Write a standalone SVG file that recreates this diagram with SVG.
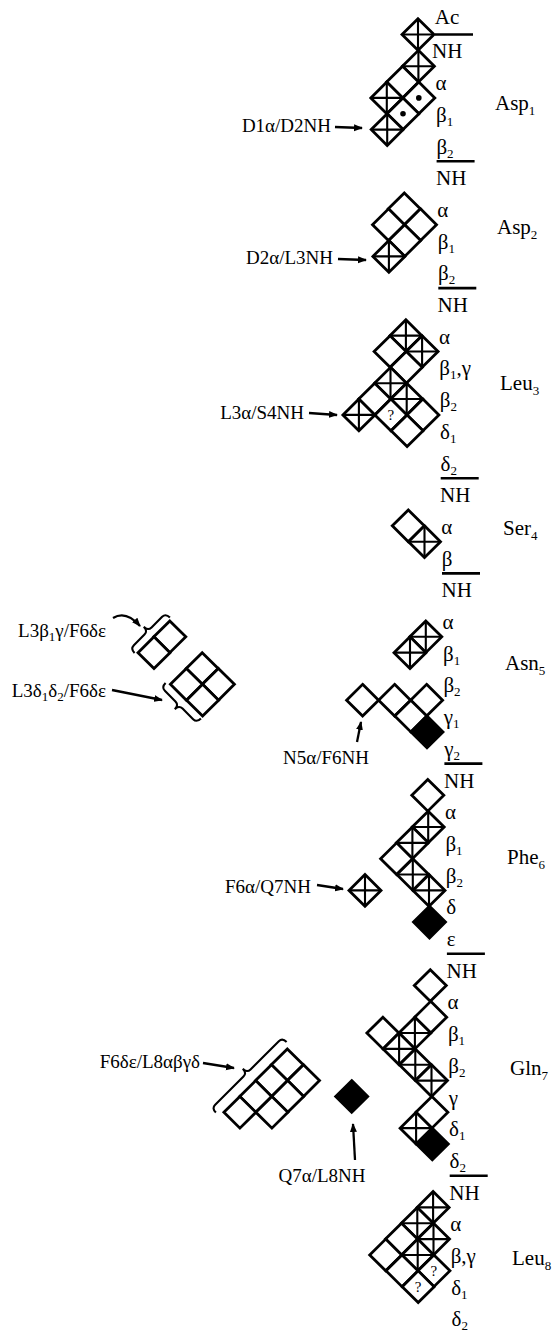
<svg xmlns="http://www.w3.org/2000/svg" width="560" height="1337" viewBox="0 0 560 1337">
<style>
.cells{fill:#fff;stroke:#000;stroke-width:2.8;stroke-linejoin:miter}
.cells .b{fill:#000}
.xl{stroke-width:2.1}
text{font-family:"Liberation Serif","Times New Roman",serif;fill:#000;stroke:none}
.at{font-size:21px}
.res{font-size:21px}
.ann{font-size:19px}
.sub{font-size:13px}
.q{font-size:15px;text-anchor:middle}
.sep{stroke:#000;stroke-width:2.6}
.arr{fill:none;stroke:#000;stroke-width:2.3}
.brace{fill:none;stroke:#000;stroke-width:2.1}
</style>
<defs>
<path id="dia" d="M0,-15.85L16,0L0,15.85L-16,0Z"/>
<g id="W"><use href="#dia"/></g>
<g id="X"><use href="#dia"/><path class="xl" d="M0,-15.85V15.85M-16,0H16"/></g>
<g id="D"><use href="#dia"/><circle r="2.8" fill="#000" stroke="none"/></g>
<g id="Q"><use href="#dia"/><text class="q" y="5.5">?</text></g>
<marker id="ah" markerUnits="userSpaceOnUse" markerWidth="9" markerHeight="8" refX="8" refY="4" orient="auto">
<path d="M0,0.5L9,4L0,7.5Z" fill="#000"/>
</marker>
</defs>
<rect width="560" height="1337" fill="#fff"/>

<g id="asp1">
<g class="cells">
<use href="#X" x="418.0" y="34.5"/>
<use href="#X" x="418.4" y="66.2"/>
<use href="#W" x="402.6" y="82.05"/>
<use href="#D" x="418.8" y="97.9"/>
<use href="#X" x="386.8" y="97.9"/>
<use href="#D" x="403.0" y="113.75"/>
<use href="#X" x="387.2" y="129.6"/>
</g>
<text class="at" x="434.8" y="24">Ac</text>
<text class="at" x="432" y="58.4">NH</text>
<text class="at" x="435.6" y="90.1">α</text>
<text class="at" x="436" y="121.8">β<tspan class="sub" dy="4">1</tspan></text>
<text class="at" x="436.4" y="153.5">β<tspan class="sub" dy="4">2</tspan></text>
<text class="res" x="495" y="110">Asp<tspan class="sub" dy="5">1</tspan></text>
</g>

<g id="asp2">
<g class="cells">
<use href="#W" x="404.3" y="208.85"/>
<use href="#W" x="420.5" y="224.7"/>
<use href="#W" x="388.5" y="224.7"/>
<use href="#W" x="404.7" y="240.55"/>
<use href="#X" x="388.9" y="256.4"/>
</g>
<text class="at" x="436" y="185.2">NH</text>
<text class="at" x="437.3" y="216.9">α</text>
<text class="at" x="437.7" y="248.6">β<tspan class="sub" dy="4">1</tspan></text>
<text class="at" x="438.1" y="280.3">β<tspan class="sub" dy="4">2</tspan></text>
<text class="res" x="497" y="234">Asp<tspan class="sub" dy="5">2</tspan></text>
</g>

<g id="leu3">
<g class="cells">
<use href="#X" x="405.9" y="335.65"/>
<use href="#X" x="422.1" y="351.5"/>
<use href="#W" x="390.1" y="351.5"/>
<use href="#W" x="406.3" y="367.35"/>
<use href="#X" x="390.5" y="383.2"/>
<use href="#X" x="406.7" y="399.05"/>
<use href="#W" x="374.7" y="399.05"/>
<use href="#W" x="422.9" y="414.9"/>
<use href="#Q" x="390.9" y="414.9"/>
<use href="#X" x="358.9" y="414.9"/>
<use href="#W" x="407.1" y="430.75"/>
</g>
<text class="at" x="437.5" y="312">NH</text>
<text class="at" x="438.9" y="343.7">α</text>
<text class="at" x="439.3" y="375.4">β<tspan class="sub" dy="4">1</tspan><tspan dy="-4">,γ</tspan></text>
<text class="at" x="439.7" y="407.1">β<tspan class="sub" dy="4">2</tspan></text>
<text class="at" x="440.1" y="438.8">δ<tspan class="sub" dy="4">1</tspan></text>
<text class="at" x="440.5" y="470.5">δ<tspan class="sub" dy="4">2</tspan></text>
<text class="res" x="500" y="390">Leu<tspan class="sub" dy="5">3</tspan></text>
</g>

<g id="ser4">
<g class="cells">
<use href="#W" x="408.3" y="525.85"/>
<use href="#X" x="424.5" y="541.7"/>
</g>
<text class="at" x="440" y="502.2">NH</text>
<text class="at" x="441.3" y="533.9">α</text>
<text class="at" x="441.7" y="565.6">β</text>
<text class="res" x="503" y="535">Ser<tspan class="sub" dy="5">4</tspan></text>
</g>

<g id="asn5">
<g class="cells">
<use href="#X" x="425.8" y="636.8"/>
<use href="#X" x="410.0" y="652.65"/>
<use href="#W" x="426.6" y="700.2"/>
<use href="#W" x="394.6" y="700.2"/>
<use href="#W" x="362.6" y="700.2"/>
<use href="#W" x="410.8" y="716.05"/>
<use href="#W" class="b" x="427.0" y="731.9"/>
</g>
<text class="at" x="441.5" y="597.3">NH</text>
<text class="at" x="442.6" y="629">α</text>
<text class="at" x="443" y="660.7">β<tspan class="sub" dy="4">1</tspan></text>
<text class="at" x="443.4" y="692.4">β<tspan class="sub" dy="4">2</tspan></text>
<text class="at" x="443.8" y="724.1">γ<tspan class="sub" dy="4">1</tspan></text>
<text class="at" x="444.2" y="755.8">γ<tspan class="sub" dy="4">2</tspan></text>
<text class="res" x="505" y="670">Asn<tspan class="sub" dy="5">5</tspan></text>
</g>

<g id="phe6">
<g class="cells">
<use href="#W" x="427.8" y="795.3"/>
<use href="#X" x="428.2" y="827.0"/>
<use href="#X" x="412.4" y="842.85"/>
<use href="#W" x="396.6" y="858.7"/>
<use href="#X" x="412.8" y="874.55"/>
<use href="#X" x="429.0" y="890.4"/>
<use href="#W" class="b" x="429.5" y="922.1"/>
</g>
<text class="at" x="444" y="787.5">NH</text>
<text class="at" x="445" y="819.2">α</text>
<text class="at" x="445.4" y="850.9">β<tspan class="sub" dy="4">1</tspan></text>
<text class="at" x="445.8" y="882.6">β<tspan class="sub" dy="4">2</tspan></text>
<text class="at" x="446.2" y="914.3">δ</text>
<text class="at" x="446.7" y="946">ε</text>
<text class="res" x="507" y="864">Phe<tspan class="sub" dy="5">6</tspan></text>
</g>

<g id="gln7">
<g class="cells">
<use href="#W" x="430.3" y="985.5"/>
<use href="#W" x="430.7" y="1017.2"/>
<use href="#W" x="382.9" y="1033.05"/>
<use href="#X" x="414.9" y="1033.05"/>
<use href="#X" x="399.1" y="1048.9"/>
<use href="#X" x="415.3" y="1064.75"/>
<use href="#X" x="431.5" y="1080.6"/>
<use href="#W" x="431.9" y="1112.3"/>
<use href="#X" x="416.1" y="1128.15"/>
<use href="#W" class="b" x="432.3" y="1144.0"/>
</g>
<text class="at" x="446.5" y="977.7">NH</text>
<text class="at" x="447.5" y="1009.4">α</text>
<text class="at" x="447.9" y="1041.1">β<tspan class="sub" dy="4">1</tspan></text>
<text class="at" x="448.3" y="1072.8">β<tspan class="sub" dy="4">2</tspan></text>
<text class="at" x="448.7" y="1104.5">γ</text>
<text class="at" x="449.1" y="1136.2">δ<tspan class="sub" dy="4">1</tspan></text>
<text class="at" x="449.5" y="1167.9">δ<tspan class="sub" dy="4">2</tspan></text>
<text class="res" x="510" y="1075">Gln<tspan class="sub" dy="5">7</tspan></text>
</g>

<g id="leu8">
<g class="cells">
<use href="#X" x="433.1" y="1207.4"/>
<use href="#X" x="417.3" y="1223.25"/>
<use href="#X" x="433.5" y="1239.1"/>
<use href="#W" x="401.5" y="1239.1"/>
<use href="#X" x="417.7" y="1254.95"/>
<use href="#W" x="385.7" y="1254.95"/>
<use href="#W" x="402.0" y="1270.8"/>
<use href="#Q" x="433.95" y="1270.8"/>
<use href="#Q" x="418.2" y="1286.65"/>
</g>
<text class="at" x="449.3" y="1199.6">NH</text>
<text class="at" x="450.3" y="1231.3">α</text>
<text class="at" x="450.7" y="1263">β,γ</text>
<text class="at" x="451.2" y="1294.7">δ<tspan class="sub" dy="4">1</tspan></text>
<text class="at" x="451.6" y="1326.4">δ<tspan class="sub" dy="4">2</tspan></text>
<text class="res" x="512" y="1265">Leu<tspan class="sub" dy="5">8</tspan></text>
</g>

<g id="separators">
<line class="sep" x1="435" y1="34.5" x2="473" y2="34.5"/>
<line class="sep" x1="436.6" y1="161.3" x2="474.6" y2="161.3"/>
<line class="sep" x1="438.3" y1="288.1" x2="476.3" y2="288.1"/>
<line class="sep" x1="440.7" y1="478.3" x2="478.7" y2="478.3"/>
<line class="sep" x1="442" y1="573.4" x2="480" y2="573.4"/>
<line class="sep" x1="444.4" y1="763.6" x2="482.4" y2="763.6"/>
<line class="sep" x1="446.9" y1="953.8" x2="484.9" y2="953.8"/>
<line class="sep" x1="449.7" y1="1175.7" x2="487.7" y2="1175.7"/>
</g>

<g id="d1a-d2nh"><text class="ann" x="331" y="132" text-anchor="end">D1α/D2NH</text></g>
<g id="d2a-l3nh"><text class="ann" x="333" y="264" text-anchor="end">D2α/L3NH</text></g>
<g id="l3a-s4nh"><text class="ann" x="304" y="419" text-anchor="end">L3α/S4NH</text></g>
<g id="n5a-f6nh"><text class="ann" x="326" y="764" text-anchor="middle">N5α/F6NH</text></g>
<g id="f6a-q7nh">
<g class="cells"><use href="#X" x="365.0" y="890.4"/></g>
<text class="ann" x="311" y="893" text-anchor="end">F6α/Q7NH</text>
</g>
<g id="q7a-l8nh">
<g class="cells"><use href="#W" class="b" x="351.7" y="1096.45"/></g>
<text class="ann" x="322" y="1182" text-anchor="middle">Q7α/L8NH</text>
</g>

<g id="l3b1g-f6de">
<g class="cells">
<use href="#W" x="169.8" y="636.8"/>
<use href="#W" x="154.0" y="652.65"/>
</g>
<path class="brace" transform="translate(148,631) rotate(-45)" d="M-25,6Q-25,0 -20,0L-5,0Q0,0 0,-6Q0,0 5,0L20,0Q25,0 25,6"/>
<text class="ann" x="106" y="637" text-anchor="end">L3β<tspan class="sub" dy="4">1</tspan><tspan dy="-4">γ/F6δε</tspan></text>
</g>

<g id="l3d1d2-f6de">
<g class="cells">
<use href="#W" x="202.2" y="668.5"/>
<use href="#W" x="218.4" y="684.35"/>
<use href="#W" x="186.4" y="684.35"/>
<use href="#W" x="202.6" y="700.2"/>
</g>
<path class="brace" transform="translate(179,705) rotate(45)" d="M-25,-6Q-25,0 -20,0L-5,0Q0,0 0,6Q0,0 5,0L20,0Q25,0 25,-6"/>
<text class="ann" x="106" y="697" text-anchor="end">L3δ<tspan class="sub" dy="4">1</tspan><tspan dy="-4">δ</tspan><tspan class="sub" dy="4">2</tspan><tspan dy="-4">/F6δε</tspan></text>
</g>

<g id="f6de-l8">
<g class="cells">
<use href="#W" x="287.3" y="1064.75"/>
<use href="#W" x="271.5" y="1080.6"/>
<use href="#W" x="255.7" y="1096.45"/>
<use href="#W" x="239.9" y="1112.3"/>
<use href="#W" x="303.5" y="1080.6"/>
<use href="#W" x="287.7" y="1096.45"/>
<use href="#W" x="271.9" y="1112.3"/>
</g>
<path class="brace" transform="translate(247,1073) rotate(-45)" d="M-50,6Q-50,0 -45,0L-5,0Q0,0 0,-6Q0,0 5,0L45,0Q50,0 50,6"/>
<text class="ann" x="200" y="1068" text-anchor="end">F6δε/L8αβγδ</text>
</g>

<g id="connectors" class="arr">
<path marker-end="url(#ah)" d="M335,127L362,128"/>
<path marker-end="url(#ah)" d="M338,259L366,260"/>
<path marker-end="url(#ah)" d="M309,413L337,415"/>
<path marker-end="url(#ah)" d="M357,742L361,722"/>
<path marker-end="url(#ah)" d="M317,885L343,889"/>
<path marker-end="url(#ah)" d="M355,1160L353,1124"/>
<path marker-end="url(#ah)" d="M203,1063L234,1068"/>
<path marker-end="url(#ah)" d="M113,618Q126,610 140,626"/>
<path marker-end="url(#ah)" d="M112,690L162,700"/>
</g>
</svg>
